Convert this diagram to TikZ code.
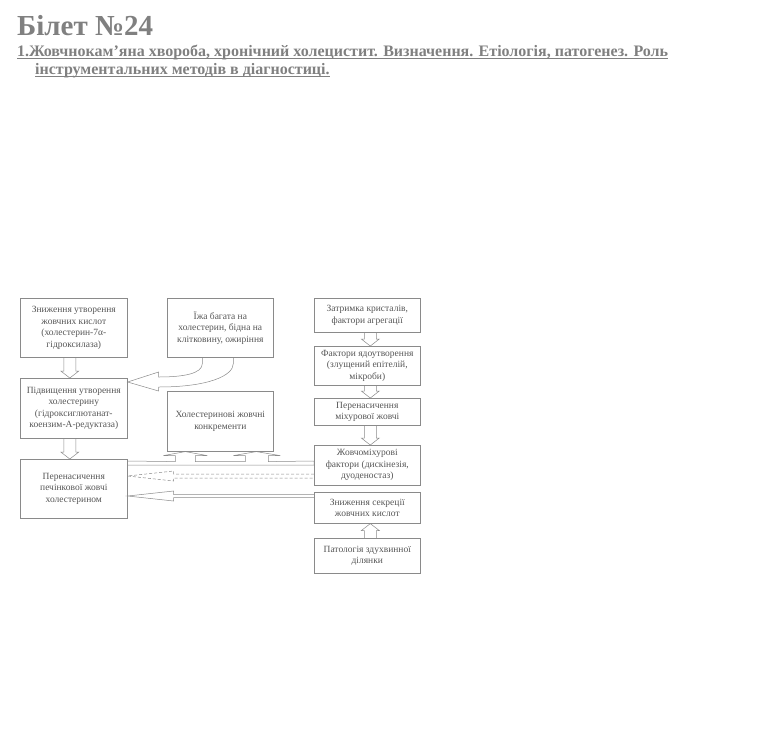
\documentclass[tikz,border=0pt]{standalone}
\usepackage{fontspec}
\setmainfont{Liberation Serif}
\usepackage{tikz}
\usetikzlibrary{calc}
\definecolor{inkgrey}{HTML}{555555}
\definecolor{linegrey}{HTML}{8A8A8A}
\definecolor{headgrey}{HTML}{808080}

% hollow block arrows between boxes of one column (from, to, x shift)
\newcommand\downblock[3]{%
  \draw[blk] ($(#1.south)+(#3-6,0)$) -- ($(#2.north)+(#3-6,-7)$)
    -- ($(#2.north)+(#3-9,-7)$) -- ($(#2.north)+(#3,0)$)
    -- ($(#2.north)+(#3+9,-7)$) -- ($(#2.north)+(#3+6,-7)$)
    -- ($(#1.south)+(#3+6,0)$);}
\newcommand\upblock[3]{%
  \draw[blk] ($(#1.north)+(#3-6,0)$) -- ($(#2.south)+(#3-6,7)$)
    -- ($(#2.south)+(#3-9,7)$) -- ($(#2.south)+(#3,0)$)
    -- ($(#2.south)+(#3+9,7)$) -- ($(#2.south)+(#3+6,7)$)
    -- ($(#1.north)+(#3+6,0)$);}

\begin{document}
\begin{tikzpicture}[x=1pt, y=-1pt,
    box/.style={draw=linegrey, line width=0.6pt, text=inkgrey, align=center,
      font=\fontsize{9.5}{11.5}\selectfont, inner sep=1pt, anchor=north west},
    blk/.style={draw=linegrey, line width=0.5pt, line join=miter},
    heading/.style={text=headgrey, inner sep=0pt, anchor=base west}]
  \useasboundingbox (0,0) rectangle (775,739);

  % title
  \node[heading, font=\fontsize{29}{29}\selectfont\bfseries] (ticket) at (17,35) {Білет №24};
  \node[heading, font=\fontsize{16}{16}\selectfont\bfseries] (q1a) at (17,56)
    {1.Жовчнокам'яна хвороба, хронічний холецистит. Визначення. Етіологія, патогенез. Роль};
  \node[heading, font=\fontsize{16}{16}\selectfont\bfseries] (q1b) at (35,74)
    {інструментальних методів в діагностиці.};
  \draw[headgrey, line width=0.8pt] ($(q1a.base west)+(0,2)$) -- ($(q1a.base east)+(0,2)$);
  \draw[headgrey, line width=0.8pt] ($(q1b.base west)+(0,2)$) -- ($(q1b.base east)+(0,2)$);

  % left column
  \node[box, minimum width=107pt, minimum height=59pt] (bileacid) at (20,298)
    {Зниження утворення\\жовчних кислот\\(холестерин-7α-\\гідроксилаза)};
  \node[box, minimum width=107pt, minimum height=60pt] (growth) at (20,378)
    {Підвищення утворення\\холестерину\\(гідроксиглютанат-\\коензим-А-редуктаза)};
  \node[box, minimum width=107pt, minimum height=59pt] (liver) at (20,459)
    {Перенасичення\\печінкової жовчі\\холестерином};

  % middle column
  \node[box, minimum width=106pt, minimum height=59pt] (food) at (167,298)
    {Їжа багата на\\холестерин, бідна на\\клітковину, ожиріння};
  \node[box, minimum width=106pt, minimum height=60pt] (stones) at (167,391)
    {Холестеринові жовчні\\конкременти};

  % right column
  \foreach \nm/\yt/\hh/\txt in {%
    r1/298/34/{Затримка кристалів,\\фактори агрегації},
    r2/346/39/{Фактори ядоутворення\\(злущений епітелій,\\мікроби)},
    r3/398/27/{Перенасичення\\міхурової жовчі},
    r4/445/40/{Жовчоміхурові\\фактори (дискінезія,\\дуоденостаз)},
    r5/492/31/{Зниження секреції\\жовчних кислот},
    r6/538/35/{Патологія здухвинної\\ділянки}%
    } {
    \node[box, minimum width=106pt, minimum height=\hh pt] (\nm) at (314,\yt) {\txt};
  }

  \downblock{bileacid}{growth}{-4}
  \downblock{growth}{liver}{-4}
  \downblock{r1}{r2}{3}
  \downblock{r2}{r3}{3}
  \downblock{r3}{r4}{3}
  \upblock{r6}{r5}{3}

  % diet -> cholesterol synthesis
  \coordinate (ftip) at ($(growth.north east)+(0,4)$);
  \draw[blk] ($(food.south)+(-18,0)$) -- ++(0,6) .. controls +(0,10) and +(25,0) .. ($(ftip)+(31,-5)$)
    -- ($(ftip)+(31,-10)$) -- (ftip) -- ($(ftip)+(31,9)$) -- ($(ftip)+(31,5)$)
    .. controls +(50,0) and +(0,12) .. ($(food.south)+(13,6)$) -- ($(food.south)+(13,0)$);

  % band under the stones
  \coordinate (bl) at ($(liver.north east)+(0,2)$);
  \coordinate (br) at ($(r4.north west)+(0,16)$);
  \draw[blk] (bl) -- ($(stones.south)+(-45,10)$) -- ++(0,-6) -- ++(-12,0)
    -- ($(stones.south)+(-35,0)$) -- ++(22,4) -- ++(-12,0) -- ++(0,6)
    -- ($(stones.south)+(25,10)$) -- ++(0,-6) -- ++(-12,0)
    -- ($(stones.south)+(36,0)$) -- ++(24,4) -- ++(-12,0) -- ++(0,6)
    -- (br) -- ++(0,4) -- ($(bl)+(0,4)$) -- cycle;

  % gallbladder factors -> liver bile (dashed)
  \coordinate (dtip) at ($(liver.north east)+(0,17)$);
  \draw[blk, dash pattern=on 3pt off 2pt] ($(r4.north west)+(0,29)$) -- ($(dtip)+(46,-2)$)
    -- ++(0,-3) -- (dtip) -- ($(dtip)+(46,5)$) -- ++(0,-3) -- ($(r4.north west)+(0,33)$);

  % bile acid secretion -> liver bile
  \coordinate (stip) at ($(liver.north east)+(0,37)$);
  \draw[blk] ($(r5.north west)+(0,2.5)$) -- ($(stip)+(46,-1.5)$)
    -- ++(0,-3.5) -- (stip) -- ($(stip)+(46,5)$) -- ++(0,-3.5) -- ($(r5.north west)+(0,5.5)$);
\end{tikzpicture}
\end{document}
